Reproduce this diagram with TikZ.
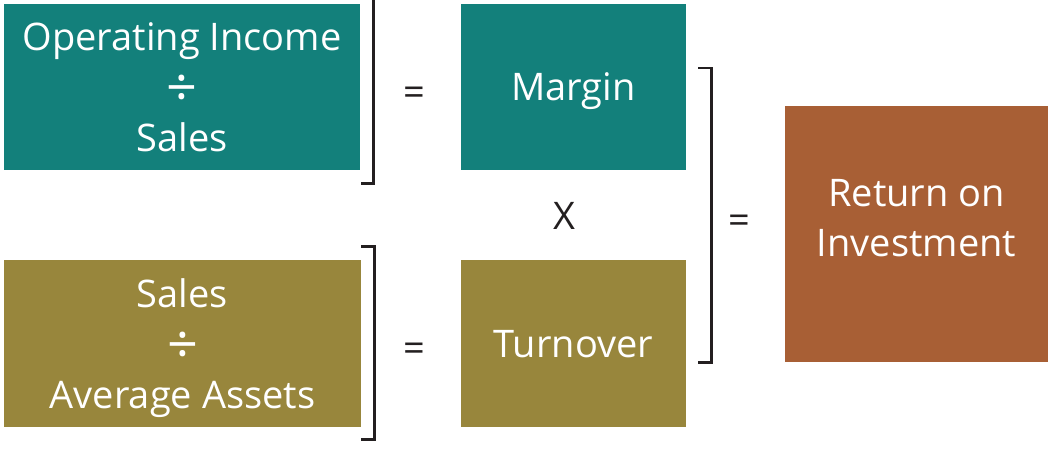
\documentclass[tikz,border=0pt]{standalone}
\usepackage{fontspec}
\setmainfont{Open Sans}
\usepackage{tikz}
\usetikzlibrary{positioning,calc}

\definecolor{tealbox}{RGB}{19,128,123}
\definecolor{olivebox}{RGB}{152,134,60}
\definecolor{rustbox}{RGB}{168,95,53}
\definecolor{inkline}{RGB}{35,31,32}

% larger division sign, lowered onto the line
\newcommand{\divsign}{\raisebox{-6pt}{\fontsize{54}{50}\selectfont\char"00F7}}

\begin{document}
\begin{tikzpicture}[x=1pt,y=-1pt,
  ratio/.style={rectangle,inner sep=0pt,text=white,align=center,text depth=0pt,
                font=\fontsize{38}{50.5}\selectfont},
  brk/.style={inkline,line width=2.7pt},
  sym/.style={inkline,font=\fontsize{38}{46}\selectfont,inner sep=0pt}]

\useasboundingbox (0,0) rectangle (1053,449);

%% ---------- top row: margin ----------
\node[ratio,fill=tealbox,minimum width=356,minimum height=166](opinc) at (182,87)
  {Operating Income\\\divsign\\Sales};
\node[ratio,fill=tealbox,minimum width=225,minimum height=166](margin) at (573.5,87)
  {Margin};

%% ---------- bottom row: turnover ----------
\node[ratio,fill=olivebox,minimum width=357,minimum height=166](salesavg) at (182.5,343.5)
  {Sales\\\divsign\\Average Assets};
\node[ratio,fill=olivebox,minimum width=225,minimum height=167](turnover) at (573.5,343.5)
  {Turnover};

%% ---------- result ----------
\node[ratio,fill=rustbox,minimum width=263,minimum height=256](roi) at (916.5,234)
  {};
\node[ratio](roitext) at ([yshift=16]roi.center){Return on\\Investment};

% Brackets
\draw[brk] ($(opinc.north east)+(13,-12)$) -- ($(opinc.south east)+(13,13)$) -- ++(-12,0);
\draw[brk] ($(salesavg.north east)+(0,-14)$) -- ++(13,0) -- ($(salesavg.south east)+(13,13)$) -- ++(-13,0);
\draw[brk] ($(margin.east)+(12,-19)$) -- ++(13,0) -- ($(roi.south -| margin.east)+(25,0)$) -- ++(-13,0);

% Operators
\node[sym](eqtop) at (414,96){=};
\node[sym](eqbot) at (414,352){=};
\node[sym](times) at (564,216){X};
\node[sym](eqroi) at (739,224){=};

\end{tikzpicture}
\end{document}
